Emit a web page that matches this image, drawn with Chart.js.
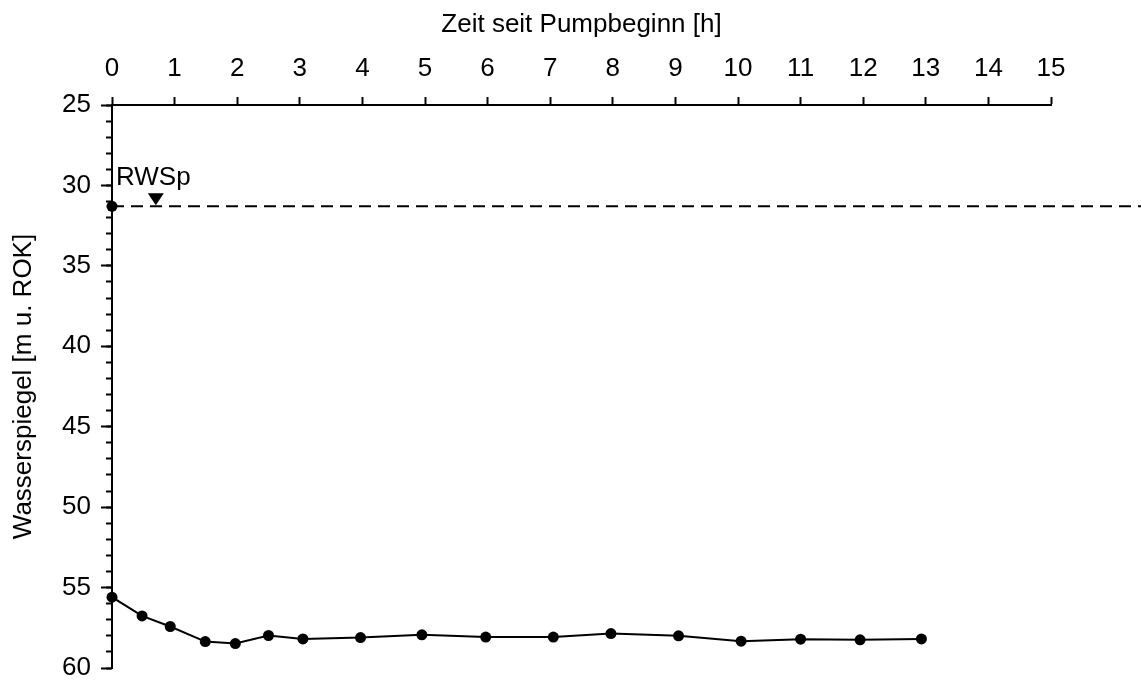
<!DOCTYPE html>
<html lang="de">
<head>
<meta charset="utf-8">
<title>Wasserspiegel</title>
<script src="https://cdn.jsdelivr.net/npm/chart.js@4/dist/chart.umd.min.js"></script>
<style>
    html, body { margin: 0; padding: 0; background: #fff; }
    #wrap { width: 1141px; height: 687px; }
</style>
</head>
<body>
<div id="wrap"><canvas id="pumpChart" width="1141" height="687"></canvas></div>
<script>
// Zeit seit Pumpbeginn [h]
const hours = [0, 0, 0.48, 0.93, 1.49, 1.97, 2.5, 3.05, 3.97, 4.95, 5.97, 7.05, 7.97, 9.05, 10.05, 11.0, 11.95, 12.93];
// Wasserspiegel [m u. ROK]
const levels = [31.3, 55.6, 56.76, 57.42, 58.36, 58.48, 57.98, 58.19, 58.11, 57.94, 58.08, 58.08, 57.86, 58.0, 58.33, 58.21, 58.25, 58.19];

const rwspLevel = 31.3;
const rwspLabel = 'RWSp';
const rwspMarkerHour = 0.7;

const xRange = [0, 15];
const yRange = [25, 60];

const font = { family: '"Liberation Sans", Arial, sans-serif', size: 26 };

const rwspPlugin = {
    id: 'rwsp',
    afterDatasetsDraw(chart) {
        const { ctx, scales } = chart;
        const y = scales.y.getPixelForValue(rwspLevel);
        const x0 = scales.x.getPixelForValue(0);
        const xm = scales.x.getPixelForValue(rwspMarkerHour);

        ctx.save();
        ctx.strokeStyle = '#000';
        ctx.lineWidth = 2;
        ctx.setLineDash([12, 7]);
        ctx.beginPath();
        ctx.moveTo(x0, y);
        ctx.lineTo(chart.width, y);
        ctx.stroke();
        ctx.setLineDash([]);

        // Ruhewasserspiegel-Dreieck
        ctx.fillStyle = '#000';
        ctx.beginPath();
        ctx.moveTo(xm - 8, y - 13);
        ctx.lineTo(xm + 8, y - 13);
        ctx.lineTo(xm, y - 1);
        ctx.closePath();
        ctx.fill();

        ctx.font = `${font.size}px ${font.family}`;
        ctx.textAlign = 'left';
        ctx.textBaseline = 'alphabetic';
        ctx.fillText(rwspLabel, x0 + 4, y - 21);
        ctx.restore();
    },
};

// keep the plot area fixed, labels may run into the page margin
function fitLeft(width) {
    return (scale) => {
        scale.width = width;
        scale.paddingTop = 0;
        scale.paddingBottom = 0;
    };
}

new Chart(document.getElementById('pumpChart'), {
    type: 'line',
    data: {
        datasets: [{
            data: hours.map((h, i) => ({ x: h, y: levels[i] })),
            borderColor: '#000',
            backgroundColor: '#000',
            borderWidth: 2,
            pointRadius: 5.5,
            pointBorderWidth: 0,
            tension: 0,
            clip: false,
        }],
    },
    options: {
        responsive: false,
        animation: false,
        layout: { padding: { top: 0, left: 0, right: 90, bottom: 19 } },
        plugins: {
            legend: { display: false },
            tooltip: { enabled: false },
        },
        scales: {
            x: {
                type: 'linear',
                position: 'top',
                min: xRange[0],
                max: xRange[1],
                afterFit: (scale) => { scale.height = 105; },
                ticks: { stepSize: 1, color: '#000', font, padding: 13, maxRotation: 0 },
                grid: { drawOnChartArea: false, tickLength: 8, tickWidth: 2, tickColor: '#000' },
                border: { color: '#000', width: 2 },
                title: {
                    display: true,
                    text: 'Zeit seit Pumpbeginn [h]',
                    color: '#000',
                    font,
                    padding: { top: 9, bottom: 0 },
                },
            },
            y: {
                type: 'linear',
                position: 'left',
                reverse: true,
                min: yRange[0],
                max: yRange[1],
                weight: 1,
                afterFit: fitLeft(112),
                ticks: { stepSize: 5, color: '#000', font, padding: 10 },
                grid: { drawOnChartArea: false, tickLength: 11, tickWidth: 2, tickColor: '#000' },
                border: { color: '#000', width: 2 },
                title: {
                    display: true,
                    text: 'Wasserspiegel [m u. ROK]',
                    color: '#000',
                    font,
                    padding: { top: 8, bottom: 0 },
                },
            },
            yMinor: {
                type: 'linear',
                position: 'left',
                reverse: true,
                min: yRange[0],
                max: yRange[1],
                weight: 0,
                afterFit: fitLeft(0),
                ticks: { stepSize: 1, display: false },
                grid: { drawOnChartArea: false, tickLength: 6, tickWidth: 2, tickColor: '#000' },
                border: { display: false },
            },
        },
    },
    plugins: [rwspPlugin],
});
</script>
</body>
</html>
